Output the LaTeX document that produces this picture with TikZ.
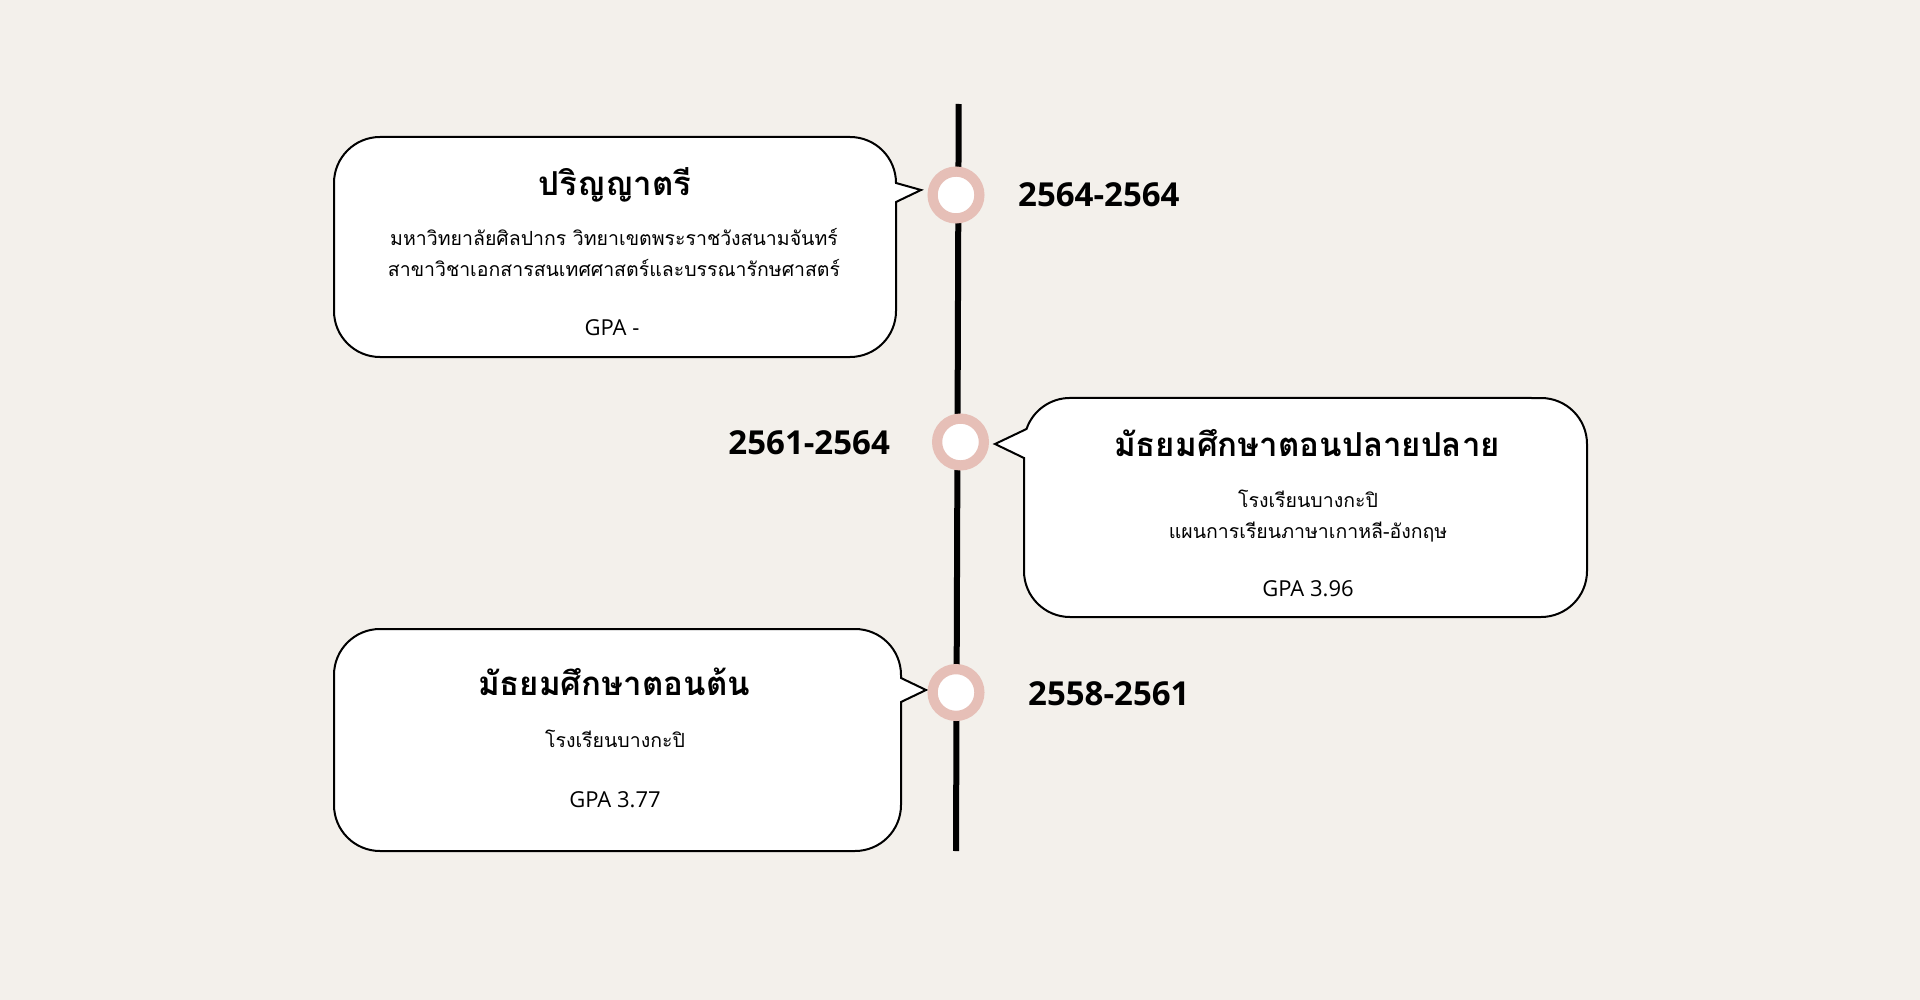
\documentclass[tikz,border=0pt]{standalone}
\usepackage{fontspec}
\setmainfont{Open Sans}
\newfontfamily\thaifont[Script=Thai]{Loma}
\definecolor{bgc}{HTML}{F3F0EB}
\definecolor{ringc}{HTML}{E6BFB7}
\begin{document}
\begin{tikzpicture}[x=1pt,y=-1pt,
  bubble/.style={draw=black,fill=white,line width=2pt,line join=miter},
  dot/.style={circle,draw=ringc,fill=white,line width=10.2pt,minimum size=46.8pt,inner sep=0pt},
  ttitle/.style={font=\thaifont\bfseries\fontsize{33}{33}\selectfont,inner sep=0pt,text height=15pt,text depth=0pt,anchor=center},
  tbody/.style={font=\thaifont\fontsize{19.5}{19.5}\selectfont,inner sep=0pt,text height=10pt,text depth=0pt,anchor=center},
  gpa/.style={font=\fontsize{22}{22}\selectfont,inner sep=0pt,text height=15.7pt,text depth=0pt,anchor=center},
  year/.style={font=\bfseries\fontsize{33}{33}\selectfont,inner sep=0pt,text height=23.6pt,text depth=0pt}]
\useasboundingbox (0,0) rectangle (1920,1000);
\fill[bgc] (0,0) rectangle (1920,1000);
% timeline
\coordinate (ttop) at (958.7,104);
\coordinate (tbot) at (956,851);
\draw[line width=6pt] (ttop) -- (tbot);
% box 1
\draw[bubble] (334,183) arc[start angle=180,end angle=270,radius=46] -- (850,137)
  arc[start angle=270,end angle=360,radius=46] -- (921,190) -- (896,202) -- (896,311)
  arc[start angle=0,end angle=90,radius=46] -- (380,357)
  arc[start angle=90,end angle=180,radius=46] -- cycle;
% box 2
\draw[bubble] (1026.5,429) arc[start angle=199,end angle=270,radius=46] -- (1541,398)
  arc[start angle=270,end angle=360,radius=46] -- (1587,571)
  arc[start angle=0,end angle=90,radius=46] -- (1070,617)
  arc[start angle=90,end angle=180,radius=46] -- (1024,458) -- (995,444) -- cycle;
% box 3
\draw[bubble] (334,675) arc[start angle=180,end angle=270,radius=46] -- (855,629)
  arc[start angle=270,end angle=360,radius=46] -- (901,678) -- (926,690) -- (901,702) -- (901,805)
  arc[start angle=0,end angle=90,radius=46] -- (380,851)
  arc[start angle=90,end angle=180,radius=46] -- cycle;
% dots
\node[dot] (d1) at (956,195) {};
\node[dot] (d2) at (960.5,442) {};
\node[dot] (d3) at (956,692.5) {};
% years
\node[year,anchor=west] (y1) at (1018,194.5) {2564-2564};
\node[year,anchor=east] (y2) at (890,443) {2561-2564};
\node[year,anchor=west] (y3) at (1028,694) {2558-2561};
% box 1 texts
\node[ttitle] (t1) at (615,188) {ปริญญาตรี};
\node[tbody] (b1a) at (614,241) {มหาวิทยาลัยศิลปากร วิทยาเขตพระราชวังสนามจันทร์};
\node[tbody] (b1b) at (614,272) {สาขาวิชาเอกสารสนเทศศาสตร์และบรรณารักษศาสตร์};
\node[gpa] (g1) at (612,328) {GPA -};
% box 2 texts
\node[ttitle] (t2) at (1307,448.5) {มัธยมศึกษาตอนปลายปลาย};
\node[tbody] (b2a) at (1308,502.5) {โรงเรียนบางกะปิ};
\node[tbody] (b2b) at (1308,533) {แผนการเรียนภาษาเกาหลี-อังกฤษ};
\node[gpa] (g2) at (1308,589) {GPA 3.96};
% box 3 texts
\node[ttitle] (t3) at (614,688) {มัธยมศึกษาตอนต้น};
\node[tbody] (b3a) at (615,742.5) {โรงเรียนบางกะปิ};
\node[gpa] (g3) at (615,800) {GPA 3.77};
\end{tikzpicture}
\end{document}
